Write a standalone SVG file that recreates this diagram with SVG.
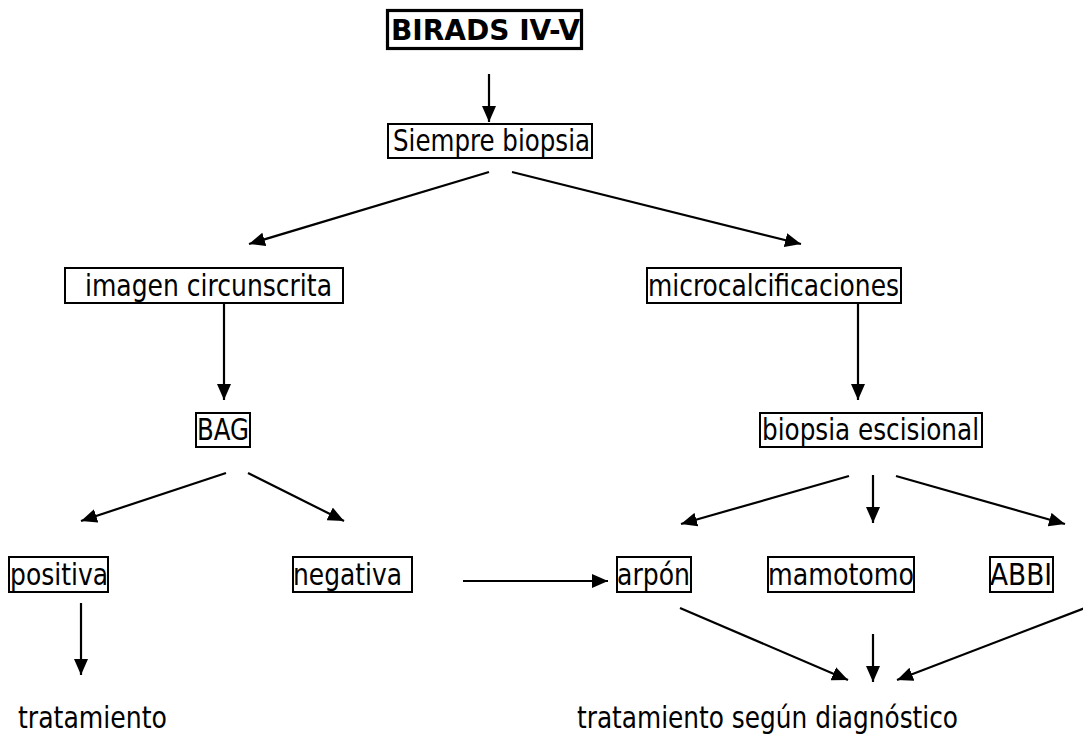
<svg xmlns="http://www.w3.org/2000/svg" width="1083" height="734" viewBox="0 0 1083 734">
<style>
text{font-family:"DejaVu Sans Condensed","DejaVu Sans",Tahoma,sans-serif;font-size:30px;fill:#000}
.b{font-weight:bold;font-size:29px}
.box{fill:none;stroke:#000;stroke-width:2}
.thick{stroke-width:3.2}
.c line{stroke:#000;stroke-width:2.2;marker-end:url(#ah)}
</style>
<defs>
<marker id="ah" viewBox="0 0 16 14" refX="16" refY="7" markerWidth="16" markerHeight="14" markerUnits="userSpaceOnUse" orient="auto">
<path d="M0,0 L16,7 L0,14 z" fill="#000"/>
</marker>
</defs>
<rect width="1083" height="734" fill="#fff"/>
<g id="birads"><rect class="box thick" x="387.5" y="10.5" width="194" height="38"/><text class="b" x="391" y="40" textLength="189" lengthAdjust="spacingAndGlyphs">BIRADS IV-V</text></g>
<g id="siempre"><rect class="box" x="388" y="124" width="204" height="34"/><text x="393" y="151" textLength="197" lengthAdjust="spacingAndGlyphs">Siempre biopsia</text></g>
<g id="imagen"><rect class="box" x="65" y="268" width="278" height="35"/><text x="85" y="296" textLength="247" lengthAdjust="spacingAndGlyphs">imagen circunscrita</text></g>
<g id="micro"><rect class="box" x="647" y="268" width="254" height="35"/><text x="648" y="296" textLength="251" lengthAdjust="spacingAndGlyphs">microcalcificaciones</text></g>
<g id="bag"><rect class="box" x="196" y="413" width="54" height="34"/><text x="197" y="440" textLength="52" lengthAdjust="spacingAndGlyphs">BAG</text></g>
<g id="escisional"><rect class="box" x="760" y="413" width="222" height="34"/><text x="762" y="440" textLength="217" lengthAdjust="spacingAndGlyphs">biopsia escisional</text></g>
<g id="positiva"><rect class="box" x="9" y="557" width="99" height="35"/><text x="10" y="585" textLength="98" lengthAdjust="spacingAndGlyphs">positiva</text></g>
<g id="negativa"><rect class="box" x="293" y="557" width="119" height="35"/><text x="293" y="585" textLength="109" lengthAdjust="spacingAndGlyphs">negativa</text></g>
<g id="arpon"><rect class="box" x="617" y="557" width="74" height="35"/><text x="617" y="585" textLength="73" lengthAdjust="spacingAndGlyphs">arpón</text></g>
<g id="mamotomo"><rect class="box" x="768" y="557" width="146" height="35"/><text x="768" y="585" textLength="146" lengthAdjust="spacingAndGlyphs">mamotomo</text></g>
<g id="abbi"><rect class="box" x="990" y="557" width="63" height="35"/><text x="990" y="585" textLength="62" lengthAdjust="spacingAndGlyphs">ABBI</text></g>
<g id="tratamiento"><text x="18" y="728" textLength="149" lengthAdjust="spacingAndGlyphs">tratamiento</text></g>
<g id="tratamiento-diag"><text x="577" y="728" textLength="381" lengthAdjust="spacingAndGlyphs">tratamiento según diagnóstico</text></g>
<g id="connectors" class="c">
<line x1="489" y1="74" x2="489" y2="122"/>
<line x1="489" y1="172" x2="249" y2="244"/>
<line x1="512" y1="172" x2="801" y2="244"/>
<line x1="224" y1="304" x2="224" y2="400"/>
<line x1="858" y1="304" x2="858" y2="400"/>
<line x1="226" y1="473" x2="81" y2="521"/>
<line x1="248" y1="473" x2="344" y2="521"/>
<line x1="81" y1="603" x2="81" y2="675"/>
<line x1="463" y1="581" x2="608" y2="581"/>
<line x1="849" y1="476" x2="681" y2="524"/>
<line x1="873" y1="475" x2="873" y2="523"/>
<line x1="896" y1="476" x2="1065" y2="524"/>
<line x1="680" y1="608" x2="848" y2="680"/>
<line x1="873" y1="634" x2="873" y2="682"/>
<line x1="1085" y1="608" x2="897" y2="680"/>
</g>
</svg>
